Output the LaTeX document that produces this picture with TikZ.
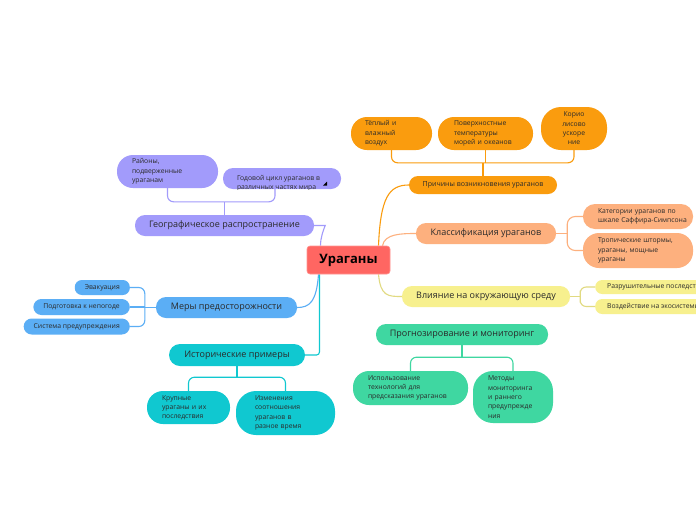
\documentclass[tikz,border=0pt]{standalone}
\usepackage{fontspec}
\setmainfont{Open Sans}
\usetikzlibrary{calc,backgrounds}
\definecolor{cred}{HTML}{FF6662}
\definecolor{corange}{HTML}{FA9C0E}
\definecolor{cpeach}{HTML}{FDB07E}
\definecolor{cyellow}{HTML}{F7F08E}
\definecolor{cgreen}{HTML}{3FD7A1}
\definecolor{cpurple}{HTML}{A29BFB}
\definecolor{cblue}{HTML}{5BAEF5}
\definecolor{ccyan}{HTML}{10C8D0}
\definecolor{txt}{HTML}{2A2A2A}
\begin{document}
\begin{tikzpicture}[x=1pt,y=-1pt,
  box/.style={inner sep=0pt, text=txt, align=center},
  lvl/.style={box, font=\fontsize{9}{11}\selectfont, minimum height=21pt, rounded corners=10pt},
  kid/.style={box, align=left, font=\fontsize{6.8}{9.3}\selectfont},
  conn/.style={line width=1.1pt}
]
\useasboundingbox (0,0) rectangle (696,520);
\clip (0,0) rectangle (696,520);

% central
\node[box, fill=cred, draw=cred!70!white, line width=0.6pt, rounded corners=3pt, minimum width=83pt, minimum height=28pt, font=\fontsize{13}{15}\bfseries\selectfont, text=black] (c) at (348.5,260) {Ураганы};

% orange branch
\node[box, fill=corange, font=\fontsize{7}{9}\selectfont, minimum width=148pt, minimum height=18pt, rounded corners=9pt] (o) at (483,185) {Причины возникновения ураганов};
\node[kid, fill=corange, minimum width=81pt, minimum height=33pt, text width=53pt, rounded corners=16pt] (o1) at (391.5,133.5) {Тёплый и\\влажный\\воздух};
\node[kid, fill=corange, minimum width=95pt, minimum height=33pt, text width=63pt, rounded corners=16pt] (o2) at (485.5,133.5) {Поверхностные\\температуры\\морей и океанов};
\node[kid, align=center, fill=corange, minimum width=66pt, minimum height=43pt, text width=42pt, rounded corners=20pt] (o3) at (574,128.5) {Корио\\лисово\\ускоре\\ние};

% peach branch
\node[lvl, fill=cpeach, minimum width=140pt] (p) at (486,233.5) {Классификация ураганов};
\node[kid, fill=cpeach, minimum width=110pt, minimum height=25pt, text width=80pt, rounded corners=12pt] (p1) at (638,216.5) {\mbox{Категории ураганов по}\\\mbox{шкале Саффира-Симпсона}};
\node[kid, fill=cpeach, minimum width=110pt, minimum height=35pt, text width=80pt, rounded corners=16pt] (p2) at (638,250.5) {\mbox{Тропические штормы,}\\ураганы, мощные\\ураганы};

% yellow branch
\node[lvl, fill=cyellow, minimum width=168pt] (y) at (486,296.5) {Влияние на окружающую среду};
\node[kid, fill=cyellow, anchor=west, inner xsep=12pt, minimum height=14pt, rounded corners=7pt] (y1) at (595,287) {Разрушительные последствия};
\node[kid, fill=cyellow, anchor=west, inner xsep=12pt, minimum height=15pt, rounded corners=7pt] (y2) at (595,306.5) {Воздействие на экосистемы};

% green branch
\node[lvl, fill=cgreen, minimum width=172pt] (g) at (462,334.5) {Прогнозирование и мониторинг};
\node[kid, fill=cgreen, minimum width=115pt, minimum height=34pt, text width=85pt, rounded corners=16pt] (g1) at (410.5,388) {Использование\\технологий для\\предсказания ураганов};
\node[kid, fill=cgreen, minimum width=80pt, minimum height=52pt, text width=50pt, rounded corners=20pt] (g2) at (513,397) {Методы\\мониторинга\\и раннего\\предупрежде\\ния};

% purple branch
\node[lvl, fill=cpurple, minimum width=179pt] (u) at (224.5,225.5) {Географическое распространение};
\node[kid, fill=cpurple, minimum width=101pt, minimum height=33pt, text width=71pt, rounded corners=16pt] (u1) at (167.5,171.5) {Районы,\\подверженные\\ураганам};
\node[box, fill=cpurple, minimum width=118pt, minimum height=21pt, rounded corners=10pt] (u2) at (282,178.5) {};
\begin{scope}
  \clip[rounded corners=10pt] (u2.south west) rectangle (u2.north east);
  \node[kid, anchor=north west] (u2t) at ($(u2.north west)+(14,7.5)$) {Годовой цикл ураганов в\\различных частях мира};
\end{scope}
\fill[black] ($(u2.east)+(-18,7)$) -- ($(u2.east)+(-14,7)$) -- ($(u2.east)+(-14,3)$) -- cycle;

% blue branch
\node[lvl, fill=cblue, minimum width=141pt] (b) at (226.5,307.5) {Меры предосторожности};
\node[kid, fill=cblue, anchor=east, inner xsep=10pt, minimum height=15pt, rounded corners=7pt] (b1) at (130,287.5) {Эвакуация};
\node[kid, fill=cblue, anchor=east, inner xsep=10pt, minimum height=16pt, rounded corners=8pt] (b2) at (130,307) {Подготовка к непогоде};
\node[kid, fill=cblue, anchor=east, inner xsep=10pt, minimum height=16pt, rounded corners=8pt] (b3) at (130,326.5) {Система предупреждения};

% cyan branch
\node[lvl, fill=ccyan, minimum width=136pt, minimum height=22pt, rounded corners=11pt] (h) at (237,355) {Исторические примеры};
\node[kid, fill=ccyan, minimum width=83pt, minimum height=33pt, text width=53pt, rounded corners=16pt] (h1) at (188.5,407.5) {Крупные\\ураганы и их\\последствия};
\node[kid, fill=ccyan, minimum width=99pt, minimum height=44pt, text width=61pt, rounded corners=20pt] (h2) at (285.5,413) {Изменения\\соотношения\\ураганов в\\разное время};

\begin{scope}[on background layer]
  \fill[white] (0,0) rectangle (696,520);
  % main connectors
  \draw[conn, corange] ($(c.north)+(30,0)$) .. controls ($(c.north)+(32,-48)$) and ($(o.west)+(-20,0)$) .. (o.west);
  \draw[conn, cpeach] ($(c.north)+(34,0)$) .. controls ($(c.north)+(36,-12)$) and ($(p.west)+(-14,0)$) .. (p.west);
  \draw[conn, cyellow!85!black!60!cyellow] ($(c.south)+(30,0)$) .. controls ($(c.south)+(32,22)$) and ($(y.west)+(-14,0)$) .. (y.west);
  \draw[conn, cgreen] ($(c.south)+(29,0)$) -- ($(c.south)+(29,0)$ |- g.center);
  \draw[conn, cpurple] ($(c.north)+(-28,0)$) .. controls ($(c.north)+(-28,-8)$) and ($(u.east)+(9,5)$) .. ($(u.east)+(11,0)$) -- (u.east);
  \draw[conn, cblue] ($(c.south)+(-30,0)$) .. controls ($(c.south)+(-32,28)$) and ($(b.east)+(12,0)$) .. (b.east);
  \draw[conn, ccyan, rounded corners=3pt] ($(c.south)+(-29,0)$) |- (h.east);
  % orange bracket
  \coordinate (oj) at ($(o.north)+(0,-13)$);
  \draw[conn, corange] (o.north) -- (oj);
  \draw[conn, corange, rounded corners=6pt] (o1.south) |- (oj) -| (o3.south);
  \draw[conn, corange] (o2.south) -- (o2.south |- oj);
  % peach bracket
  \coordinate (pj) at ($(p.east)+(11,0)$);
  \draw[conn, cpeach] (p.east) -- (pj);
  \draw[conn, cpeach, rounded corners=8pt] (p1.west) -| (pj) |- (p2.west);
  % yellow bracket
  \coordinate (yj) at ($(y.east)+(10,0)$);
  \draw[conn, cyellow!85!black!60!cyellow] (y.east) -- (yj);
  \draw[conn, cyellow!85!black!60!cyellow, rounded corners=6pt] (y1.west) -| (yj) |- (y2.west);
  % green bracket
  \coordinate (gj) at ($(g.south)+(0,12)$);
  \draw[conn, cgreen] (g.south) -- (gj);
  \draw[conn, cgreen, rounded corners=6pt] (g1.north) |- (gj) -| (g2.north);
  % purple bracket
  \coordinate (uj) at ($(u.north)+(0,-13)$);
  \draw[conn, cpurple] (u.north) -- (uj);
  \draw[conn, cpurple, rounded corners=6pt] (u1.south) |- (uj) -| ($(u2.south)+(-7,0)$);
  % blue bracket
  \coordinate (bj) at ($(b.west)+(-11,0)$);
  \draw[conn, cblue] (b.west) -- (bj);
  \draw[conn, cblue, rounded corners=6pt] (b1.east) -| (bj) |- (b3.east);
  \draw[conn, cblue] (b2.east) -- (b2.east -| bj);
  % cyan bracket
  \coordinate (hj) at ($(h.south)+(0,11)$);
  \draw[conn, ccyan] (h.south) -- (hj);
  \draw[conn, ccyan, rounded corners=6pt] (h1.north) |- (hj) -| (h2.north);
\end{scope}
\end{tikzpicture}
\end{document}
